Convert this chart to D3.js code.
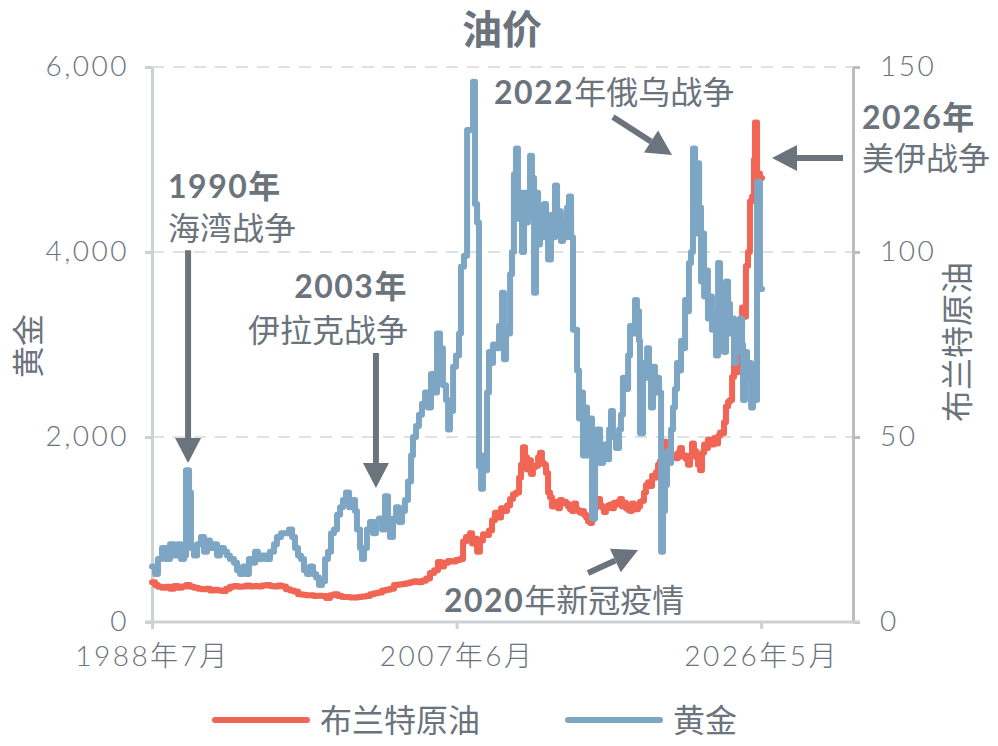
<!DOCTYPE html>
<html>
<head>
<meta charset="utf-8">
<script src="https://cdn.jsdelivr.net/npm/d3@7"></script>
<style>
  body { margin: 0; background: #fff; }
  svg text { font-family: "Lato", "Noto Sans CJK SC", sans-serif; fill: #6b737c; }
</style>
</head>
<body>
<svg id="chart" width="998" height="746"></svg>
<script>
// 油价: two step lines, red on the left axis, blue on the right axis.
// Dates are decimal years.

const seriesNames = ["布兰特原油", "黄金"];

// red series (left axis)
const redDates = [
  1988.50, 1988.69, 1988.87, 1989.12, 1989.37, 1989.62, 1989.87, 1990.11, 1990.36, 1990.61,
  1990.86, 1991.11, 1991.36, 1991.61, 1991.85, 1992.10, 1992.35, 1992.60, 1992.85, 1993.10,
  1993.34, 1993.59, 1993.84, 1994.09, 1994.34, 1994.59, 1994.84, 1995.08, 1995.33, 1995.58,
  1995.83, 1996.08, 1996.33, 1996.57, 1996.82, 1997.07, 1997.32, 1997.57, 1997.82, 1998.07,
  1998.31, 1998.56, 1998.81, 1999.06, 1999.31, 1999.56, 1999.80, 2000.05, 2000.30, 2000.55,
  2000.80, 2001.05, 2001.30, 2001.54, 2001.79, 2002.04, 2002.29, 2002.54, 2002.79, 2003.03,
  2003.28, 2003.53, 2003.78, 2004.03, 2004.28, 2004.53, 2004.77, 2005.02, 2005.27, 2005.52,
  2005.77, 2006.02, 2006.26, 2006.45, 2006.64, 2006.89, 2007.13, 2007.38, 2007.63, 2007.82,
  2008.00, 2008.13, 2008.25, 2008.38, 2008.50, 2008.69, 2008.87, 2009.06, 2009.25, 2009.43,
  2009.62, 2009.80, 2009.99, 2010.18, 2010.36, 2010.55, 2010.74, 2010.92, 2011.11, 2011.30,
  2011.42, 2011.54, 2011.67, 2011.79, 2011.92, 2012.04, 2012.16, 2012.29, 2012.48, 2012.60,
  2012.72, 2012.85, 2012.97, 2013.10, 2013.22, 2013.34, 2013.47, 2013.59, 2013.72, 2013.84,
  2013.97, 2014.09, 2014.21, 2014.34, 2014.46, 2014.59, 2014.71, 2014.84, 2014.96, 2015.08,
  2015.21, 2015.33, 2015.46, 2015.58, 2015.71, 2015.83, 2015.95, 2016.08, 2016.20, 2016.33,
  2016.45, 2016.57, 2016.70, 2016.82, 2016.95, 2017.07, 2017.20, 2017.32, 2017.44, 2017.57,
  2017.69, 2017.82, 2017.94, 2018.07, 2018.19, 2018.31, 2018.44, 2018.56, 2018.69, 2018.81,
  2018.94, 2019.06, 2019.18, 2019.31, 2019.43, 2019.56, 2019.68, 2019.80, 2019.93, 2020.05,
  2020.18, 2020.30, 2020.43, 2020.55, 2020.67, 2020.80, 2020.92, 2021.05, 2021.17, 2021.30,
  2021.42, 2021.54, 2021.67, 2021.79, 2021.92, 2022.04, 2022.16, 2022.29, 2022.41, 2022.54,
  2022.66, 2022.79, 2022.91, 2023.03, 2023.16, 2023.28, 2023.41, 2023.53, 2023.66, 2023.78,
  2023.90, 2024.03, 2024.15, 2024.28, 2024.40, 2024.53, 2024.65, 2024.77, 2024.90, 2025.02,
  2025.15, 2025.27, 2025.39, 2025.52, 2025.64, 2025.77, 2025.89, 2025.95, 2026.08, 2026.26,
  2026.39
];
const redValues = [
  430, 400, 380, 370, 380, 360, 390, 370, 385, 400,
  380, 370, 360, 355, 360, 340, 350, 340, 335, 360,
  380, 390, 380, 385, 395, 385, 390, 385, 395, 400,
  390, 385, 395, 385, 355, 340, 330, 300, 295, 290,
  290, 280, 285, 280, 260, 290, 300, 280, 270, 270,
  265, 265, 270, 275, 280, 300, 310, 320, 340, 350,
  360, 400, 405, 410, 420, 430, 440, 430, 445, 470,
  530, 560, 650, 600, 640, 660, 655, 670, 680, 870,
  920, 890, 960, 850, 900, 760, 880, 950, 940, 990,
  1100, 1180, 1130, 1230, 1200, 1260, 1330, 1380, 1400, 1560,
  1700, 1890, 1780, 1650, 1750, 1600, 1670, 1690, 1780, 1830,
  1720, 1700, 1610, 1400, 1350, 1250, 1300, 1260, 1230, 1320,
  1280, 1300, 1280, 1250, 1220, 1200, 1280, 1220, 1200, 1180,
  1200, 1160, 1130, 1090, 1070, 1110, 1230, 1280, 1330, 1260,
  1240, 1190, 1230, 1260, 1270, 1230, 1290, 1270, 1300, 1330,
  1250, 1290, 1230, 1210, 1200, 1280, 1260, 1220, 1250, 1300,
  1310, 1400, 1480, 1510, 1470, 1580, 1560, 1620, 1700, 1740,
  1800, 1950, 1900, 1750, 1820, 1780, 1800, 1770, 1830, 1880,
  1790, 1800, 1760, 1700, 1800, 1930, 1850, 1780, 1700, 1640,
  1830, 1920, 1880, 1970, 1950, 1920, 1990, 1930, 2010, 2050,
  2040, 2160, 2330, 2380, 2400, 2650, 2800, 2700, 2800, 3200,
  3400, 3300, 3850, 4000, 4550, 4600, 5000, 5400, 4850, 4800,
  4800
];

// blue series (right axis)
const blueDates = [
  1988.50, 1988.69, 1988.87, 1989.12, 1989.37, 1989.62, 1989.87, 1990.11, 1990.30, 1990.49,
  1990.61, 1990.80, 1990.92, 1991.11, 1991.30, 1991.54, 1991.73, 1991.92, 1992.10, 1992.35,
  1992.54, 1992.72, 1992.97, 1993.16, 1993.34, 1993.59, 1993.78, 1993.97, 1994.15, 1994.34,
  1994.52, 1994.71, 1994.90, 1995.08, 1995.33, 1995.58, 1995.83, 1996.08, 1996.26, 1996.51,
  1996.76, 1997.01, 1997.20, 1997.38, 1997.57, 1997.75, 1997.94, 1998.13, 1998.31, 1998.50,
  1998.69, 1998.87, 1999.06, 1999.25, 1999.43, 1999.62, 1999.80, 1999.99, 2000.18, 2000.36,
  2000.55, 2000.74, 2000.92, 2001.11, 2001.23, 2001.42, 2001.54, 2001.67, 2001.85, 2002.04,
  2002.23, 2002.41, 2002.60, 2002.79, 2002.97, 2003.16, 2003.28, 2003.47, 2003.66, 2003.84,
  2004.03, 2004.21, 2004.40, 2004.59, 2004.71, 2004.90, 2005.08, 2005.27, 2005.46, 2005.64,
  2005.83, 2006.02, 2006.20, 2006.39, 2006.57, 2006.76, 2006.89, 2007.01, 2007.20, 2007.38,
  2007.57, 2007.69, 2007.88, 2008.07, 2008.25, 2008.44, 2008.56, 2008.69, 2008.81, 2008.94,
  2009.06, 2009.18, 2009.31, 2009.43, 2009.56, 2009.68, 2009.87, 2010.05, 2010.24, 2010.36,
  2010.49, 2010.61, 2010.74, 2010.86, 2010.98, 2011.11, 2011.23, 2011.36, 2011.48, 2011.61,
  2011.73, 2011.85, 2011.98, 2012.10, 2012.23, 2012.35, 2012.48, 2012.60, 2012.72, 2012.85,
  2012.97, 2013.10, 2013.28, 2013.41, 2013.53, 2013.66, 2013.78, 2013.90, 2014.03, 2014.15,
  2014.28, 2014.40, 2014.53, 2014.65, 2014.77, 2014.90, 2015.02, 2015.15, 2015.27, 2015.39,
  2015.52, 2015.71, 2015.83, 2016.02, 2016.14, 2016.33, 2016.51, 2016.70, 2016.89, 2017.01,
  2017.13, 2017.32, 2017.51, 2017.63, 2017.75, 2017.94, 2018.07, 2018.19, 2018.38, 2018.50,
  2018.62, 2018.75, 2018.81, 2019.00, 2019.12, 2019.25, 2019.37, 2019.49, 2019.62, 2019.74,
  2019.87, 2019.99, 2020.12, 2020.24, 2020.36, 2020.49, 2020.61, 2020.74, 2020.86, 2020.98,
  2021.11, 2021.23, 2021.36, 2021.48, 2021.61, 2021.73, 2021.85, 2021.98, 2022.10, 2022.23,
  2022.35, 2022.48, 2022.60, 2022.66, 2022.79, 2022.91, 2023.03, 2023.16, 2023.28, 2023.41,
  2023.53, 2023.66, 2023.78, 2023.90, 2024.03, 2024.15, 2024.28, 2024.40, 2024.53, 2024.65,
  2024.77, 2024.90, 2025.02, 2025.15, 2025.21, 2025.33, 2025.46, 2025.58, 2025.71, 2025.83,
  2025.95, 2026.08, 2026.26, 2026.39
];
const blueValues = [
  15, 13, 17, 20, 17, 21, 18, 21, 17, 18,
  41, 35, 20, 18, 21, 23, 19, 22, 20, 21,
  18, 20, 19, 18, 17, 16, 14, 13, 15, 13,
  17, 16, 19, 17, 18, 17, 19, 21, 23, 24,
  24, 25, 23, 20, 18, 17, 14, 13, 15, 13,
  12, 10, 11, 17, 19, 24, 25, 29, 31, 33,
  35, 31, 33, 30, 25, 20, 17, 20, 25, 27,
  24, 27, 28, 25, 34, 28, 23, 28, 31, 27,
  30, 33, 38, 45, 50, 53, 56, 59, 62, 58,
  67, 62, 78, 74, 64, 60, 52, 57, 69, 72,
  78, 96, 99, 133, 133, 146, 113, 108, 42, 36,
  45, 41, 62, 73, 70, 75, 74, 80, 89, 71,
  80, 78, 94, 100, 121, 128, 109, 116, 100, 116,
  108, 110, 126, 120, 89, 116, 102, 112, 104, 113,
  105, 98, 110, 104, 118, 109, 111, 103, 108, 104,
  112, 115, 104, 79, 79, 68, 55, 62, 45, 58,
  45, 55, 28, 45, 52, 43, 48, 44, 52, 57,
  50, 47, 52, 56, 66, 63, 72, 80, 78, 87,
  84, 76, 51, 70, 66, 74, 67, 58, 69, 62,
  66, 62, 19, 30, 37, 46, 43, 52, 58, 63,
  70, 68, 76, 74, 87, 84, 97, 100, 128, 105,
  124, 112, 92, 105, 88, 95, 82, 88, 79, 84,
  72, 97, 80, 85, 73, 92, 86, 78, 82, 70,
  76, 73, 82, 75, 60, 73, 66, 70, 58, 62,
  60, 119, 90, 90
];

const leftTicks = [0, 2000, 4000, 6000];
const rightTicks = [0, 50, 100, 150];
const xTickDates = [1988.5, 2007.417, 2026.333];
const xTickLabels = ["1988年7月", "2007年6月", "2026年5月"];

// annotations: arrow from/to in [year, left-axis value], text offset from arrow tail
const notes = [
  { lines: [["1990年", ""], ["", "海湾战争"]], from: [1990.74, 4020], to: [1990.74, 1720], dx: -20, dy: [-52, -10], anchor: "start" },
  { lines: [["2003年", ""], ["", "伊拉克战争"]], from: [2002.41, 2908], to: [2002.41, 1449], dx: 32, dy: [-55, -11], anchor: "end" },
  { lines: [["2022", "年俄乌战争"]], from: [2017.13, 5459], to: [2020.80, 5048], dx: -119, dy: [-13], anchor: "start" },
  { lines: [["2026年", ""], ["", "美伊战争"]], from: [2031.42, 5016], to: [2027.01, 5016], dx: 19, dy: [-29, 12], anchor: "start" },
  { lines: [["2020", "年新冠疫情"]], from: [2015.58, 530], to: [2018.69, 778], dx: -144, dy: [39], anchor: "start" },
];

const RED = "#f06554";
const BLUE = "#7ca6c4";
const INK = "#6b737c";
const AXIS = "#cdd1d4";

const svg = d3.select("#chart");
const plotLeft = 152, plotRight = 853, plotTop = 67, plotBottom = 622;

const x = d3.scaleLinear().domain([1988.5, 2032.04]).range([plotLeft, plotRight]);
const yL = d3.scaleLinear().domain([0, 6000]).range([plotBottom, plotTop]);
const yR = d3.scaleLinear().domain([0, 150]).range([plotBottom, plotTop]);

// title
svg.append("text")
  .attr("x", 502).attr("y", 44)
  .attr("text-anchor", "middle")
  .attr("font-size", 40).attr("font-weight", 700)
  .text("油价");

// dashed grid
svg.append("g")
  .selectAll("line")
  .data(leftTicks.filter((d) => d > 0))
  .join("line")
  .attr("x1", plotLeft).attr("x2", plotRight)
  .attr("y1", (d) => yL(d)).attr("y2", (d) => yL(d))
  .attr("stroke", "#dfe1e2").attr("stroke-width", 2)
  .attr("stroke-dasharray", "12,9");

// left axis
const gL = svg.append("g")
  .attr("transform", `translate(${plotLeft},0)`)
  .call(d3.axisLeft(yL).tickValues(leftTicks).tickSize(7).tickSizeOuter(0)
    .tickPadding(16).tickFormat(d3.format(",")));

// right axis
const gR = svg.append("g")
  .attr("transform", `translate(${plotRight},0)`)
  .call(d3.axisRight(yR).tickValues(rightTicks).tickSize(7).tickSizeOuter(0).tickPadding(20));

// bottom axis
const gB = svg.append("g")
  .attr("transform", `translate(0,${plotBottom})`)
  .call(d3.axisBottom(x).tickValues(xTickDates).tickSize(7).tickSizeOuter(0)
    .tickPadding(17).tickFormat((d, i) => xTickLabels[i]));
gB.select(".domain").attr("d", `M${plotLeft - 7},0H${plotRight + 7}`);

for (const g of [gL, gR, gB]) {
  g.select(".domain").attr("stroke", AXIS).attr("stroke-width", 3);
  g.selectAll(".tick line").attr("stroke", AXIS).attr("stroke-width", 3);
  g.selectAll(".tick text")
    .attr("fill", INK)
    .attr("font-size", 28)
    .attr("font-weight", 300)
    .attr("letter-spacing", 2.5)
    .style("font-family", '"Lato", "Noto Sans CJK SC", sans-serif');
}
gR.select(".domain").attr("stroke", "#bdbdbd");
gR.selectAll(".tick line").attr("stroke", "#bdbdbd");

// axis titles
svg.append("text")
  .attr("transform", `translate(40,346) rotate(-90)`)
  .attr("text-anchor", "middle")
  .attr("font-size", 32)
  .text("黄金");
svg.append("text")
  .attr("transform", `translate(969,342) rotate(-90)`)
  .attr("text-anchor", "middle")
  .attr("font-size", 32)
  .text("布兰特原油");

// lines
const lineL = d3.line().x((d) => x(d[0])).y((d) => yL(d[1])).curve(d3.curveStepAfter);
const lineR = d3.line().x((d) => x(d[0])).y((d) => yR(d[1])).curve(d3.curveStepAfter);

svg.append("path")
  .datum(d3.zip(redDates, redValues))
  .attr("d", lineL)
  .attr("fill", "none").attr("stroke", RED)
  .attr("stroke-width", 6).attr("stroke-linejoin", "round").attr("stroke-linecap", "round");

svg.append("path")
  .datum(d3.zip(blueDates, blueValues))
  .attr("d", lineR)
  .attr("fill", "none").attr("stroke", BLUE)
  .attr("stroke-width", 6).attr("stroke-linejoin", "round").attr("stroke-linecap", "round");

// annotations
const HEAD = 25, HALF = 13;
for (const n of notes) {
  const x1 = x(n.from[0]), y1 = yL(n.from[1]);
  const x2 = x(n.to[0]), y2 = yL(n.to[1]);
  const len = Math.hypot(x2 - x1, y2 - y1);
  const ux = (x2 - x1) / len, uy = (y2 - y1) / len;
  const bx = x2 - ux * HEAD, by = y2 - uy * HEAD;
  svg.append("line")
    .attr("x1", x1).attr("y1", y1).attr("x2", bx).attr("y2", by)
    .attr("stroke", INK).attr("stroke-width", 6);
  svg.append("path")
    .attr("d", `M${x2},${y2}L${bx - uy * HALF},${by + ux * HALF}L${bx + uy * HALF},${by - ux * HALF}Z`)
    .attr("fill", INK);

  n.lines.forEach((parts, i) => {
    const t = svg.append("text")
      .attr("x", x1 + n.dx).attr("y", y1 + n.dy[i])
      .attr("text-anchor", n.anchor)
      .attr("font-size", 32);
    if (parts[0]) t.append("tspan").attr("font-weight", 700).attr("letter-spacing", 1.5).text(parts[0]);
    if (parts[1]) t.append("tspan").attr("font-weight", 400).text(parts[1]);
  });
}

// legend
const legend = svg.append("g").attr("transform", "translate(0,720)");
const legendItems = [
  { name: seriesNames[0], color: RED, x: 215 },
  { name: seriesNames[1], color: BLUE, x: 568 },
];
for (const it of legendItems) {
  legend.append("line")
    .attr("x1", it.x).attr("x2", it.x + 92)
    .attr("stroke", it.color).attr("stroke-width", 6).attr("stroke-linecap", "round");
  legend.append("text")
    .attr("x", it.x + 105).attr("y", 12)
    .attr("font-size", 32)
    .text(it.name);
}
</script>
</body>
</html>
